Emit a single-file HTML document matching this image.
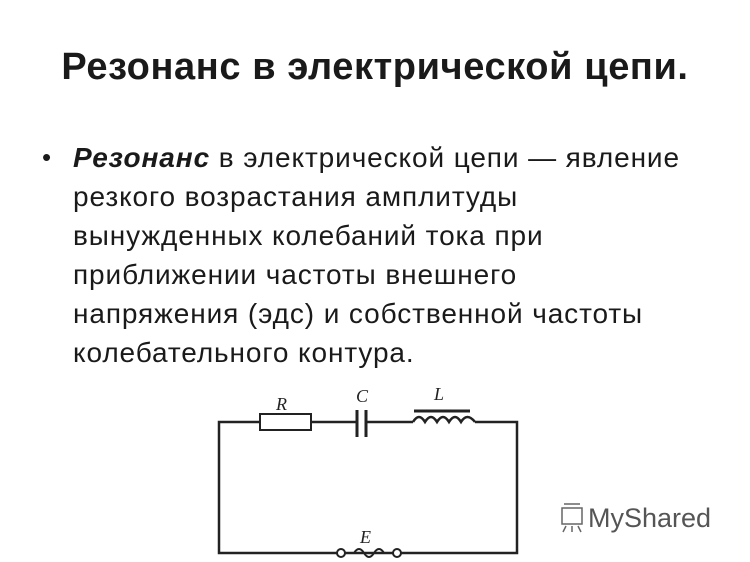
<!DOCTYPE html>
<html><head><meta charset="utf-8"><style>
body{margin:0;width:750px;height:562px;background:#fff;position:relative;overflow:hidden;font-family:"Liberation Sans","DejaVu Sans",sans-serif;color:#1a1a1a}
h1{position:absolute;left:0;width:750px;top:46px;margin:0;text-align:center;font-size:38px;letter-spacing:0.6px;font-weight:bold}
.t{position:absolute;left:73px;top:138px;font-size:28px;letter-spacing:0.9px;line-height:39px;white-space:nowrap}
.b{position:absolute;left:42px;top:138px;font-size:26px;line-height:39px}
.logo{position:absolute;left:588px;top:503px;font-size:27px;color:#555}
</style></head><body>
<h1>Резонанс в электрической цепи.</h1>
<div class="b">•</div>
<div class="t"><b><i>Резонанс</i></b> в электрической цепи — явление<br>резкого возрастания амплитуды<br>вынужденных колебаний тока при<br>приближении частоты внешнего<br>напряжения (эдс) и собственной частоты<br>колебательного контура.</div>
<svg width="750" height="562" style="position:absolute;left:0;top:0" fill="none" stroke="#222" stroke-width="2.5">
<path d="M260 422H219V553H337M345 553H393M401 553H517V422H475"/>
<rect x="260" y="414" width="51" height="16" stroke-width="2"/>
<path d="M311 422H357M366 422H413"/>
<path d="M357 410V437M366 410V437" stroke-width="3"/>
<path d="M413 422q6-10 12 0q6-10 12 0q6-10 12 0q6-10 12 0q6-10 14 0"/>
<path d="M414 411H470" stroke-width="3"/>
<circle cx="341" cy="553" r="4" stroke-width="2"/>
<circle cx="397" cy="553" r="4" stroke-width="2"/>
<path d="M354 553q5-8 10 0t10 0t10 0" stroke-width="2"/>
<g fill="#222" stroke="none" font-family="Liberation Serif,serif" font-style="italic" font-size="18">
<text x="276" y="410">R</text><text x="356" y="402">C</text><text x="434" y="400">L</text><text x="360" y="543">E</text></g>
<g stroke="#666" stroke-width="1.5"><rect x="562" y="508" width="20" height="16"/><path d="M564 504h16M566 526l-3 6M572 526v6M578 526l3 6"/></g>
</svg>
<div class="logo">MyShared</div>
</body></html>
